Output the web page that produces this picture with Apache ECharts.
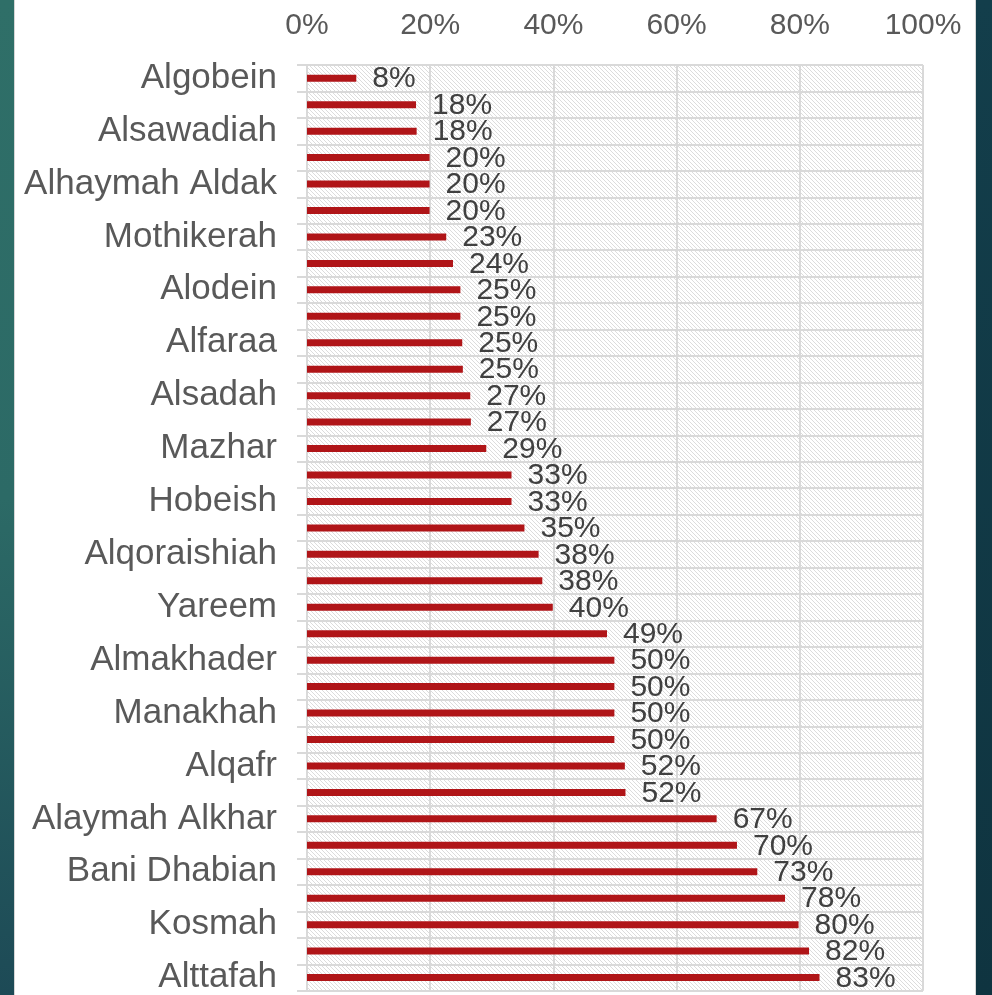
<!DOCTYPE html>
<html>
<head>
<meta charset="utf-8">
<script src="https://cdn.jsdelivr.net/npm/echarts@6/dist/echarts.min.js"></script>
<style>
html,body{margin:0;padding:0;background:#fff;}
#chart{width:992px;height:995px;}
</style>
</head>
<body>
<div id="chart"></div>
<script>
// Categories (top to bottom); unlabeled rows in the reference are left blank
const categories = [
  'Algobein', '', 'Alsawadiah', '', 'Alhaymah Aldak', '', 'Mothikerah', '',
  'Alodein', '', 'Alfaraa', '', 'Alsadah', '', 'Mazhar', '', 'Hobeish', '',
  'Alqoraishiah', '', 'Yareem', '', 'Almakhader', '', 'Manakhah', '', 'Alqafr', '',
  'Alaymah Alkhar', '', 'Bani Dhabian', '', 'Kosmah', '', 'Alttafah'
];
// Values in percent
const values = [
  8.0, 17.7, 17.8, 19.9, 19.9, 19.9, 22.6, 23.7, 24.9, 24.9, 25.2, 25.3,
  26.5, 26.6, 29.1, 33.2, 33.2, 35.3, 37.6, 38.2, 39.9, 48.7, 49.9, 49.9,
  49.9, 49.9, 51.6, 51.7, 66.5, 69.8, 73.1, 77.6, 79.8, 81.5, 83.2
];
const xTicks = [0, 20, 40, 60, 80, 100];

// hatch pattern for plot background
const pat = document.createElement('canvas');
pat.width = 8; pat.height = 8;
const pctx = pat.getContext('2d');
pctx.fillStyle = '#ffffff';
pctx.fillRect(0, 0, 8, 8);
pctx.fillStyle = '#dcdcdc';
for (let y = 0; y < 8; y++) {
  for (let x = 0; x < 8; x++) {
    if (((x - y) % 4 + 4) % 4 === 0) pctx.fillRect(x, y, 1, 1);
  }
}

const FONT = '"Liberation Sans", Arial, sans-serif';
const chart = echarts.init(document.getElementById('chart'), null, {renderer: 'canvas'});
chart.setOption({
  animation: false,
  backgroundColor: '#ffffff',
  graphic: [
    {type: 'rect', left: 0, top: 0, shape: {width: 14, height: 995}, silent: true,
     style: {fill: new echarts.graphic.LinearGradient(0, 0, 0, 1, [
       {offset: 0, color: '#2f6f68'}, {offset: 0.5, color: '#2c6a66'}, {offset: 1, color: '#1d4a56'}])}},
    {type: 'rect', left: 14, top: 0, shape: {width: 1, height: 995}, silent: true, style: {fill: '#d6d6d6'}},
    {type: 'rect', left: 976, top: 0, shape: {width: 16, height: 995}, silent: true,
     style: {fill: new echarts.graphic.LinearGradient(0, 0, 0, 1, [
       {offset: 0, color: '#133e4b'}, {offset: 1, color: '#0f3440'}])}},
    {type: 'rect', left: 975, top: 0, shape: {width: 1, height: 995}, silent: true, style: {fill: '#d6d6d6'}}
  ],
  grid: {
    left: 307, top: 65, width: 616, bottom: 0,
    show: true, borderWidth: 0,
    backgroundColor: {image: pat, repeat: 'repeat'}
  },
  xAxis: {
    type: 'value', position: 'top', min: 0, max: 100, interval: 20,
    axisLine: {show: false}, axisTick: {show: false},
    splitLine: {show: true, lineStyle: {color: '#d9d9d9', width: 2}},
    axisLabel: {
      margin: 24, fontFamily: FONT, fontSize: 30, color: '#595959',
      formatter: function (v) { return xTicks.indexOf(v) >= 0 ? v + '%' : ''; }
    }
  },
  yAxis: {
    type: 'category', inverse: true, data: categories,
    axisLine: {show: true, lineStyle: {color: '#d9d9d9', width: 2}},
    axisTick: {show: true, length: 10, interval: 0, lineStyle: {color: '#d9d9d9', width: 2}},
    splitLine: {show: true, interval: 0, lineStyle: {color: '#d9d9d9', width: 2}},
    axisLabel: {interval: 0, margin: 30, fontFamily: FONT, fontSize: 35, color: '#595959'}
  },
  series: [{
    type: 'bar', data: values, barWidth: 7,
    itemStyle: {color: '#b01518'},
    label: {
      show: true, position: 'right', distance: 16, offset: [0, 1],
      fontFamily: FONT, fontSize: 30, color: '#404040',
      formatter: function (p) { return Math.round(p.value) + '%'; }
    }
  }]
});
</script>
</body>
</html>
